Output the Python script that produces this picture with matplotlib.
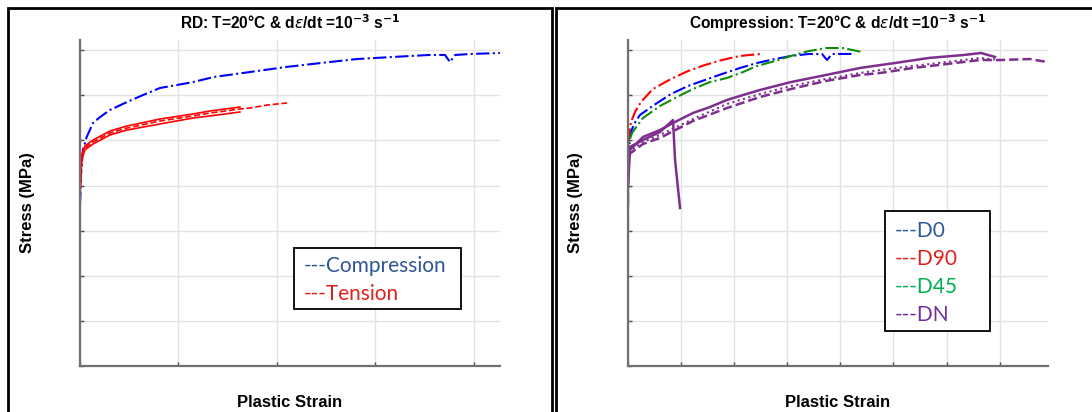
import matplotlib
matplotlib.use("Agg")
import matplotlib.pyplot as plt
from matplotlib.patches import Rectangle

# ---- left panel: RD compression vs tension ----
rd_comp_strain = [0, 0.0003, 0.0005, 0.0015, 0.0034, 0.0066, 0.0102, 0.0152, 0.0239, 0.032, 0.0406, 0.0492,
                  0.0574, 0.068, 0.0863, 0.1046, 0.1223, 0.1406, 0.1589, 0.1772, 0.1853, 0.1878, 0.1904, 0.198, 0.2132]
rd_comp_stress = [178.5, 195.1, 210.6, 239.5, 253.9, 269.4, 276.0, 283.8, 292.7, 300.4, 308.2, 311.5,
                  314.8, 320.4, 325.9, 331.5, 335.9, 340.3, 342.6, 344.8, 344.8, 337.0, 344.8, 345.9, 347.0]

tens_strain = [0, 0.0001, 0.0009, 0.0025, 0.0066, 0.0152, 0.0239, 0.0406, 0.0574, 0.066, 0.0812]
tens_a_stress = [176.3, 195.1, 233.9, 243.9, 250.5, 260.5, 266.1, 273.8, 279.4, 282.7, 287.1]
tens_b_stress = [176.3, 192.9, 229.5, 239.5, 246.1, 256.1, 261.6, 268.3, 274.9, 277.2, 281.6]
tens_c_strain = [0, 0.0001, 0.0009, 0.0025, 0.0066, 0.0152, 0.0239, 0.0406, 0.0574, 0.066, 0.0812,
                 0.0863, 0.0949, 0.1051]
tens_c_stress = [174.1, 194.0, 231.7, 241.7, 248.3, 258.3, 263.8, 271.6, 277.2, 280.5, 284.9,
                 286.0, 289.3, 291.6]

# ---- right panel: compression in 4 directions ----
d0_strain = [0, 0.0005, 0.0019, 0.0056, 0.0113, 0.0245, 0.0405, 0.0565, 0.0725, 0.0885, 0.1055, 0.1215,
             0.1384, 0.1535, 0.1704, 0.1827, 0.1874, 0.1921, 0.1996, 0.2137]
d0_stress = [178.5, 228.4, 256.1, 268.3, 278.3, 289.3, 301.5, 310.4, 317.1, 323.7, 330.4, 335.9,
             340.3, 343.7, 345.9, 345.9, 339.2, 345.9, 345.9, 345.9]

d90_strain = [0, 0.0003, 0.0009, 0.0028, 0.0066, 0.0122, 0.0235, 0.0405, 0.0565, 0.0725, 0.0885, 0.1055, 0.1243]
d90_stress = [150.8, 239.5, 256.1, 270.5, 281.6, 292.7, 307.1, 318.2, 327.0, 333.7, 339.2, 343.7, 345.9]

d45_strain = [0, 0.0009, 0.0038, 0.0085, 0.0141, 0.0301, 0.0461, 0.0612, 0.0772, 0.0932, 0.1083, 0.1215,
              0.1384, 0.1535, 0.1704, 0.1864, 0.2024, 0.2203]
d45_stress = [228.4, 248.3, 258.3, 266.1, 274.9, 288.2, 298.2, 307.1, 314.8, 319.3, 325.9, 332.6,
              338.1, 343.7, 349.2, 352.5, 352.5, 348.1]

dn1_strain = [0, 0.0019, 0.0141, 0.0301, 0.0424, 0.0612, 0.0772, 0.0932, 0.1083, 0.1243, 0.1535, 0.1864,
              0.2185, 0.2514, 0.2834, 0.3164, 0.3324, 0.3456]
dn1_stress = [198.4, 239.5, 253.9, 261.6, 269.4, 280.5, 287.1, 294.9, 300.4, 306.0, 314.8, 322.6,
              330.4, 335.9, 341.5, 344.8, 347.0, 342.6]

dn2_strain = [0, 0.0141, 0.0301, 0.0612, 0.0932, 0.1243, 0.1535, 0.1864, 0.2185, 0.2373, 0.2684, 0.3004,
              0.3314, 0.3503]
dn2_stress = [237.2, 248.3, 256.1, 273.8, 290.5, 301.5, 310.4, 318.2, 324.8, 328.1, 332.6, 337.0,
              341.5, 339.2]

dn3_strain = [0, 0.0141, 0.0301, 0.0612, 0.0932, 0.1243, 0.1535, 0.1864, 0.2185, 0.2373, 0.2684, 0.3004,
              0.3314, 0.3503, 0.3785, 0.3945]
dn3_stress = [233.9, 246.1, 252.8, 271.6, 286.0, 298.2, 307.1, 316.0, 322.6, 324.8, 330.4, 334.8,
              339.2, 339.2, 340.3, 337.0]

dn4_strain = [0, 0.0141, 0.0301, 0.0424, 0.0443, 0.049]
dn4_stress = [241.7, 250.5, 259.4, 272.7, 228.4, 175.2]

y_ticks = [0, 50, 100, 150, 200, 250, 300, 350]
left_x_ticks = [0, 0.05, 0.1, 0.15, 0.2]
right_x_ticks = [0, 0.05, 0.1, 0.15, 0.2, 0.25, 0.3, 0.35]

left_labels = ["---Compression", "---Tension"]
left_colors = ["#2F5597", "#E0201B"]
right_labels = ["---D0", "---D90", "---D45", "---DN"]
right_colors = ["#2E5A9C", "#E0201B", "#00B050", "#7030A0"]

BLUE = (0, 0, 1)
RED = (1, 0, 0)
GREEN = (0.05, 0.55, 0.05)
PURPLE = (0.494, 0.184, 0.556)

plt.rcParams['font.family'] = ['Liberation Sans', 'DejaVu Sans']
plt.rcParams['mathtext.fontset'] = 'dejavusans'

W, H = 1092, 412
fig = plt.figure(figsize=(W / 100, H / 100), dpi=100)
axL = fig.add_axes([80 / W, 46 / H, 420 / W, 326 / H])
axR = fig.add_axes([628 / W, 46 / H, 420 / W, 326 / H])


def style(ax, xticks, xmax, title):
    ax.set_xlim(0, xmax)
    ax.set_ylim(0, 361.4)
    ax.set_xticks(xticks)
    ax.set_yticks(y_ticks)
    ax.set_xticklabels([])
    ax.set_yticklabels([])
    ax.grid(True, color='#e3e3e3', lw=1)
    ax.set_axisbelow(True)
    for s in ['top', 'right']:
        ax.spines[s].set_visible(False)
    for s in ['left', 'bottom']:
        ax.spines[s].set_color('#707070')
        ax.spines[s].set_linewidth(1.6)
    ax.tick_params(direction='in', length=3, width=1, color='#505050')
    ax.set_title(title, fontsize=11.2, fontweight='bold', pad=8)
    ax.set_xlabel("Plastic Strain", fontsize=12, fontweight='bold')
    ax.xaxis.set_label_coords(0.5, -0.112)
    ax.xaxis.label.set_va('center')
    ax.set_ylabel("Stress (MPa)", fontsize=12, fontweight='bold')
    ax.yaxis.set_label_coords(-0.126, 0.5)
    ax.yaxis.label.set_va('center')


# left
axL.plot(rd_comp_strain, rd_comp_stress, color=BLUE, ls='-.', lw=1.5)
axL.plot(tens_strain, tens_a_stress, color=RED, lw=1.2)
axL.plot(tens_strain, tens_b_stress, color=RED, lw=1.2)
axL.plot(tens_c_strain, tens_c_stress, color=RED, ls='--', lw=1.2)
style(axL, left_x_ticks, 0.2132, r'RD: T=20°C & d$\epsilon$/dt =10$^{\mathbf{-3}}$ s$^{\mathbf{-1}}$')

# right
axR.plot(d0_strain, d0_stress, color=BLUE, ls='-.', lw=1.5)
axR.plot(d90_strain, d90_stress, color=RED, ls='-.', lw=1.5)
axR.plot(d45_strain, d45_stress, color=GREEN, ls='-.', lw=1.5)
axR.plot(dn1_strain, dn1_stress, color=PURPLE, lw=1.8)
axR.plot(dn2_strain, dn2_stress, color=PURPLE, ls=':', lw=1.5)
axR.plot(dn3_strain, dn3_stress, color=PURPLE, ls='--', lw=1.8)
axR.plot(dn4_strain, dn4_stress, color=PURPLE, lw=1.8)
style(axR, right_x_ticks, 0.3955, r'Compression: T=20°C & d$\epsilon$/dt =10$^{\mathbf{-3}}$ s$^{\mathbf{-1}}$')


# text boxes used as legends (pixel layout from the top-left corner)
def text_box(labels, colors, box, text_x, first_y, step):
    x0, y0, x1, y1 = box
    fig.add_artist(Rectangle((x0 / W, 1 - y1 / H), (x1 - x0) / W, (y1 - y0) / H,
                             transform=fig.transFigure, fc='white', ec='black', lw=1.3, zorder=5))
    for i, (lab, col) in enumerate(zip(labels, colors)):
        fig.text(text_x / W, 1 - (first_y + i * step) / H, lab, color=col, family='Lato', fontsize=15,
                 ha='left', va='center', zorder=6)


text_box(left_labels, left_colors, (294, 248, 461, 309), 304, 266, 28)
text_box(right_labels, right_colors, (885, 211, 990, 331), 895, 231, 28)

# panel frames
fig.add_artist(Rectangle((8 / W, -0.1), 544 / W, 1.1 - 8 / H, transform=fig.transFigure,
                         fill=False, ec='black', lw=2))
fig.add_artist(Rectangle((556 / W, -0.1), 0.6, 1.1 - 8 / H, transform=fig.transFigure,
                         fill=False, ec='black', lw=2))

plt.savefig("out.png", dpi=100)
